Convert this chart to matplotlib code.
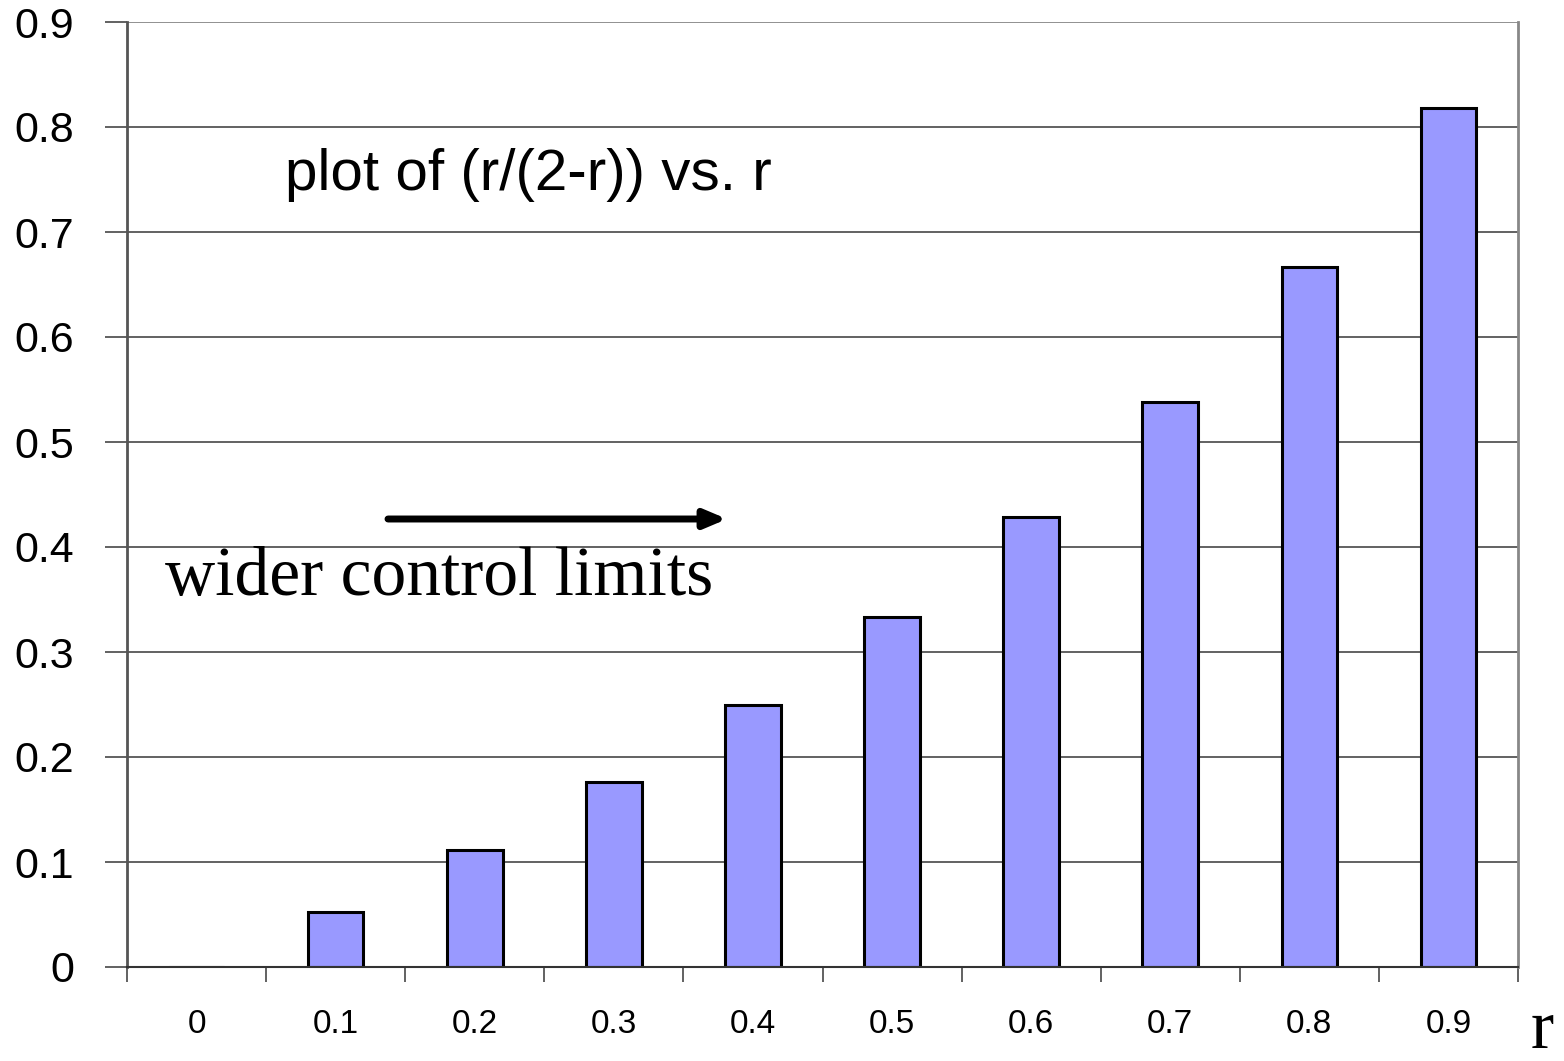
import numpy as np
import matplotlib.pyplot as plt

r_labels = ["0", "0.1", "0.2", "0.3", "0.4", "0.5", "0.6", "0.7", "0.8", "0.9"]
ratio = [0.0, 0.0526, 0.1111, 0.1765, 0.25, 0.3333, 0.4286, 0.5385, 0.6667, 0.8182]
y_ticks = [0, 0.1, 0.2, 0.3, 0.4, 0.5, 0.6, 0.7, 0.8, 0.9]

fig = plt.figure(figsize=(15.64, 10.61), dpi=100)
ax = fig.add_axes([127 / 1564, 94 / 1061, 1391 / 1564, 945 / 1061])

x = np.arange(len(r_labels))
ax.bar(x, ratio, width=0.4, color="#9999ff", edgecolor="black", linewidth=2.2, zorder=3)

ax.set_xlim(-0.5, len(r_labels) - 0.5)
ax.set_ylim(0, 0.9)

# horizontal grid
for yv in y_ticks[1:]:
    ax.axhline(yv, color="#555555" if yv < 0.9 else "#888888", lw=1.3, zorder=1)

ax.set_yticks(y_ticks)
ax.set_yticklabels([("%g" % v) for v in y_ticks], fontsize=31, family="Liberation Sans")
ax.tick_params(axis="y", direction="out", length=16, width=1.3, color="#555555", pad=22)

# category labels centred, tick marks on the boundaries
ax.set_xticks(np.arange(-0.5, len(r_labels)))
ax.set_xticklabels([])
ax.set_xticks(x, minor=True)
ax.set_xticklabels(r_labels, minor=True, fontsize=24, family="Liberation Sans")
ax.tick_params(axis="x", which="major", direction="out", length=11, width=1.3, color="#555555")
ax.tick_params(axis="x", which="minor", length=0, pad=30)

ax.spines["top"].set_visible(False)
ax.spines["right"].set_color("#888888")
ax.spines["right"].set_linewidth(2)
ax.spines["left"].set_color("#555555")
ax.spines["left"].set_linewidth(2)
ax.spines["bottom"].set_color("#333333")
ax.spines["bottom"].set_linewidth(1.5)
for s in ax.spines.values():
    s.set_zorder(4)

fig.text(285 / 1564, 1 - 175 / 1061, "plot of (r/(2-r)) vs. r", fontsize=42,
         family="Liberation Sans", va="center", ha="left")

ax.annotate("", xy=(727, 1061 - 519), xytext=(388, 1061 - 519),
            xycoords="figure pixels", textcoords="figure pixels",
            arrowprops=dict(arrowstyle="-|>,head_length=1.3,head_width=0.55",
                            color="black", lw=5, shrinkA=0, shrinkB=0))
fig.text(165 / 1564, 1 - 578 / 1061, "wider control limits", fontsize=50,
         family="Liberation Serif", va="center", ha="left")
fig.text(1531 / 1564, 1 - 1048 / 1061, "r", fontsize=50,
         family="Liberation Serif", va="baseline", ha="left")

fig.savefig("out.png", dpi=100)
